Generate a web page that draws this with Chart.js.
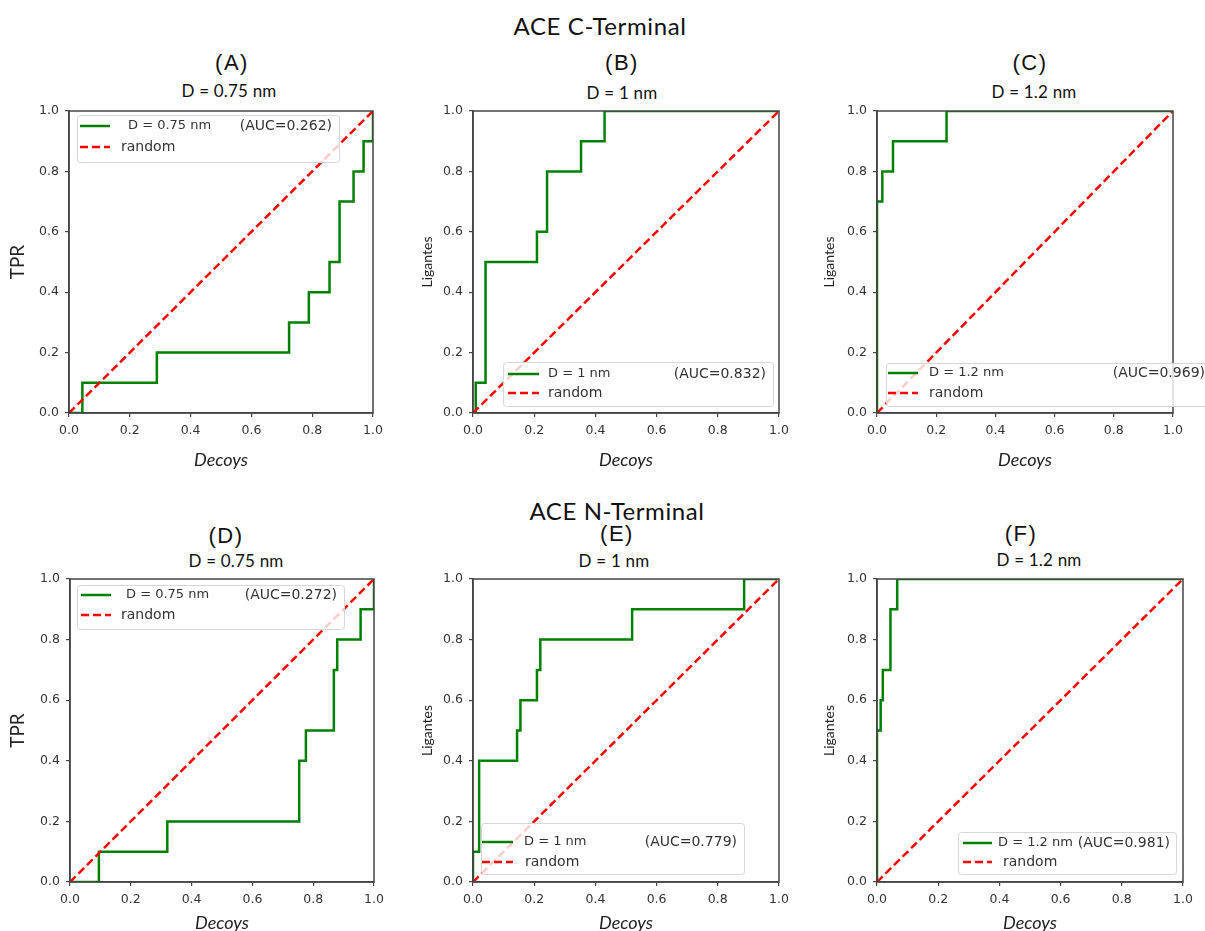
<!DOCTYPE html>
<html lang="en">
<head>
<meta charset="UTF-8">
<title>ACE ROC curves</title>
<script src="https://cdn.jsdelivr.net/npm/chart.js"></script>
<style>
  html, body { margin: 0; padding: 0; background: #fff; overflow: hidden; }
  body { width: 1205px; height: 931px; position: relative; }
  canvas { position: absolute; }
  .t { position: absolute; transform: translate(-50%, -50%); white-space: nowrap; line-height: 1; color: #111; }
  .sup { font-family: Lato, sans-serif; font-size: 24px; letter-spacing: 0.6px; }
  .lbl { font-family: "Liberation Sans", sans-serif; font-size: 22px; letter-spacing: 1.5px; }
  .sub { font-family: Lato, sans-serif; font-size: 17px; letter-spacing: 0.2px; }
</style>
</head>
<body>
<script>
  // ---- data ----
  const groupTitles = ['ACE C-Terminal', 'ACE N-Terminal'];
  const panelIds = ['A', 'B', 'C', 'D', 'E', 'F'];
  const distances = ['D = 0.75 nm', 'D = 1 nm', 'D = 1.2 nm', 'D = 0.75 nm', 'D = 1 nm', 'D = 1.2 nm'];
  const aucValues = ['0.262', '0.832', '0.969', '0.272', '0.779', '0.981'];
  const yTitles = ['TPR', 'Ligantes', 'Ligantes', 'TPR', 'Ligantes', 'Ligantes'];
  const xTitle = 'Decoys';
  const randomLabel = 'random';
  const tickValues = [0, 0.2, 0.4, 0.6, 0.8, 1.0];

  // ROC corner points (false positive rate, true positive rate)
  const fprA = [0, 0.044, 0.044, 0.289, 0.289, 0.724, 0.724, 0.789, 0.789, 0.857, 0.857, 0.890, 0.890, 0.936, 0.936, 0.969, 0.969, 1, 1];
  const tprA = [0, 0, 0.1, 0.1, 0.2, 0.2, 0.3, 0.3, 0.4, 0.4, 0.5, 0.5, 0.7, 0.7, 0.8, 0.8, 0.9, 0.9, 1];
  const fprB = [0, 0.009, 0.009, 0.041, 0.041, 0.209, 0.209, 0.242, 0.242, 0.353, 0.353, 0.430, 0.430, 1];
  const tprB = [0, 0, 0.1, 0.1, 0.5, 0.5, 0.6, 0.6, 0.8, 0.8, 0.9, 0.9, 1, 1];
  const fprC = [0, 0, 0.018, 0.018, 0.054, 0.054, 0.235, 0.235, 1];
  const tprC = [0, 0.7, 0.7, 0.8, 0.8, 0.9, 0.9, 1, 1];
  const fprD = [0, 0.095, 0.095, 0.320, 0.320, 0.754, 0.754, 0.776, 0.776, 0.868, 0.868, 0.879, 0.879, 0.956, 0.956, 1, 1];
  const tprD = [0, 0, 0.1, 0.1, 0.2, 0.2, 0.4, 0.4, 0.5, 0.5, 0.7, 0.7, 0.8, 0.8, 0.9, 0.9, 1];
  const fprE = [0, 0, 0.020, 0.020, 0.144, 0.144, 0.155, 0.155, 0.209, 0.209, 0.220, 0.220, 0.520, 0.520, 0.886, 0.886, 1];
  const tprE = [0, 0.1, 0.1, 0.4, 0.4, 0.5, 0.5, 0.6, 0.6, 0.7, 0.7, 0.8, 0.8, 0.9, 0.9, 1, 1];
  const fprF = [0, 0, 0.012, 0.012, 0.019, 0.019, 0.044, 0.044, 0.066, 0.066, 1];
  const tprF = [0, 0.5, 0.5, 0.6, 0.6, 0.7, 0.7, 0.9, 0.9, 1, 1];
  const randomX = [0, 1];
  const randomY = [0, 1];

  const rocColor = '#008000';
  const randomColor = '#ff0000';
  const axisColor = '#444';

  // ---- layout (page pixels) ----
  // canvas: [left, top, width, height], area: [left, top, right, bottom]
  const panels = [
    { fpr: fprA, tpr: tprA, canvas: [0, 96, 393, 377], area: [69, 111, 373, 413], yTitleX: 18, yTitleSize: 19, xTitleY: 460,
      label: [232, 63], sub: [229, 90],
      legend: { box: [77, 115, 339, 162], line: [80, 110], rows: [126, 147], labelX: 128, randomX: 121, aucRight: 332 } },
    { fpr: fprB, tpr: tprB, canvas: [400, 96, 400, 377], area: [473, 111, 779, 413], yTitleX: 427, yTitleSize: 14, xTitleY: 460,
      label: [622, 63], sub: [622, 92],
      legend: { box: [503, 362, 773, 406], line: [508, 539], rows: [374, 393], labelX: 548, randomX: 548, aucRight: 766 } },
    { fpr: fprC, tpr: tprC, canvas: [800, 96, 405, 377], area: [877, 111, 1173, 413], yTitleX: 829, yTitleSize: 14, xTitleY: 460,
      label: [1030, 63], sub: [1034, 91],
      legend: { box: [886, 363, 1212, 406], line: [888, 918], rows: [373, 393], labelX: 929, randomX: 929, aucRight: 1205 } },
    { fpr: fprD, tpr: tprD, canvas: [0, 564, 394, 373], area: [70, 579, 374, 882], yTitleX: 18, yTitleSize: 19, xTitleY: 923,
      label: [226, 536], sub: [236, 560],
      legend: { box: [77, 585, 344, 629], line: [81, 111], rows: [595, 615], labelX: 126, randomX: 121, aucRight: 337 } },
    { fpr: fprE, tpr: tprE, canvas: [400, 564, 400, 373], area: [473, 579, 779, 882], yTitleX: 427, yTitleSize: 14, xTitleY: 923,
      label: [617, 534], sub: [614, 560],
      legend: { box: [481, 823, 744, 874], line: [482, 513], rows: [842, 862], labelX: 524, randomX: 525, aucRight: 737 } },
    { fpr: fprF, tpr: tprF, canvas: [800, 564, 405, 373], area: [877, 579, 1183, 882], yTitleX: 829, yTitleSize: 14, xTitleY: 923,
      label: [1021, 534], sub: [1039, 559],
      legend: { box: [958, 832, 1176, 874], line: [963, 992], rows: [843, 862], labelX: 998, randomX: 1003, aucRight: 1170 } }
  ];
  const groupTitlePos = [[600, 26], [617, 511]];

  function addText(text, cls, pos) {
    const d = document.createElement('div');
    d.className = 't ' + cls;
    d.textContent = text;
    d.style.left = pos[0] + 'px';
    d.style.top = pos[1] + 'px';
    document.body.appendChild(d);
  }

  // box, spines and legend drawn over the plot
  const rocLegend = {
    id: 'rocLegend',
    afterDraw(chart, args, opts) {
      const ctx = chart.ctx, a = chart.chartArea;
      const ox = opts.ox, oy = opts.oy, g = opts.layout;
      ctx.save();
      ctx.strokeStyle = axisColor;
      ctx.lineWidth = 1.5;
      ctx.strokeRect(a.left, a.top, a.right - a.left, a.bottom - a.top);

      const [bx0, by0, bx1, by1] = g.box;
      ctx.fillStyle = 'rgba(255,255,255,0.8)';
      ctx.strokeStyle = '#d6d6d6';
      ctx.lineWidth = 1;
      ctx.beginPath();
      ctx.roundRect(bx0 - ox + 0.5, by0 - oy + 0.5, bx1 - bx0, by1 - by0, 3);
      ctx.fill();
      ctx.stroke();

      ctx.lineWidth = 2.5;
      ctx.strokeStyle = rocColor;
      ctx.beginPath();
      ctx.moveTo(g.line[0] - ox, g.rows[0] - oy);
      ctx.lineTo(g.line[1] - ox, g.rows[0] - oy);
      ctx.stroke();
      ctx.strokeStyle = randomColor;
      ctx.setLineDash([8, 4]);
      ctx.beginPath();
      ctx.moveTo(g.line[0] - ox, g.rows[1] - oy);
      ctx.lineTo(g.line[1] - ox, g.rows[1] - oy);
      ctx.stroke();
      ctx.setLineDash([]);

      ctx.fillStyle = '#333';
      ctx.textBaseline = 'middle';
      ctx.textAlign = 'left';
      ctx.font = '13px "DejaVu Sans"';
      ctx.fillText(opts.label, g.labelX - ox, g.rows[0] - oy);
      ctx.font = '14px "DejaVu Sans"';
      ctx.fillText(randomLabel, g.randomX - ox, g.rows[1] - oy);
      ctx.textAlign = 'right';
      ctx.fillText('(AUC=' + opts.auc + ')', g.aucRight - ox, g.rows[0] - oy);
      ctx.restore();
    }
  };

  groupTitles.forEach((t, i) => addText(t, 'sup', groupTitlePos[i]));

  panels.forEach((p, i) => {
    addText('(' + panelIds[i] + ')', 'lbl', p.label);
    addText(distances[i], 'sub', p.sub);

    const [cl, ct, cw, ch] = p.canvas;
    const [L, T, R, B] = p.area;
    const cv = document.createElement('canvas');
    cv.width = cw; cv.height = ch;
    cv.style.left = cl + 'px'; cv.style.top = ct + 'px';
    cv.style.width = cw + 'px'; cv.style.height = ch + 'px';
    document.body.appendChild(cv);

    const yAxisWidth = L - cl;
    const xAxisHeight = ct + ch - B;
    const xTitleSize = 18;
    const xTitlePad = (ct + ch - p.xTitleY) - xTitleSize * 1.2 / 2;
    const yTitlePad = (p.yTitleX - cl) - p.yTitleSize * 1.2 / 2;

    const tickFont = { family: 'DejaVu Sans', size: 12.5 };
    const gridOpts = { drawOnChartArea: false, drawTicks: true, tickLength: 4, color: axisColor, lineWidth: 1.2 };

    new Chart(cv, {
      type: 'line',
      data: {
        datasets: [
          {
            label: distances[i],
            data: p.fpr.map((x, k) => ({ x: x, y: p.tpr[k] })),
            borderColor: rocColor,
            borderWidth: 2.5,
            pointRadius: 0,
            tension: 0,
            order: 1
          },
          {
            label: randomLabel,
            data: randomX.map((x, k) => ({ x: x, y: randomY[k] })),
            borderColor: randomColor,
            borderWidth: 2.5,
            borderDash: [8, 4],
            pointRadius: 0,
            tension: 0,
            order: 0
          }
        ]
      },
      options: {
        responsive: false,
        animation: false,
        events: [],
        layout: { padding: { left: 0, top: T - ct, right: cl + cw - R, bottom: 0 } },
        plugins: {
          legend: { display: false },
          tooltip: { enabled: false },
          rocLegend: { ox: cl, oy: ct, layout: p.legend, label: distances[i], auc: aucValues[i] }
        },
        scales: {
          x: {
            type: 'linear', min: 0, max: 1,
            afterFit(s) { s.height = xAxisHeight; },
            afterBuildTicks(s) { s.ticks = tickValues.map(v => ({ value: v })); },
            ticks: { callback: v => v.toFixed(1), font: tickFont, color: '#333', padding: 6, maxRotation: 0, autoSkip: false },
            grid: gridOpts,
            border: { display: true, color: axisColor, width: 1.5 },
            title: { display: true, text: xTitle, color: '#222',
              font: { family: 'Lato', size: xTitleSize, style: 'italic' }, padding: { top: 0, bottom: xTitlePad } }
          },
          y: {
            type: 'linear', min: 0, max: 1,
            afterFit(s) { s.width = yAxisWidth; },
            afterBuildTicks(s) { s.ticks = tickValues.map(v => ({ value: v })); },
            ticks: { callback: v => v.toFixed(1), font: tickFont, color: '#333', padding: 6, autoSkip: false },
            grid: gridOpts,
            border: { display: true, color: axisColor, width: 1.5 },
            title: { display: true, text: yTitles[i], color: '#222',
              font: { family: 'Lato', size: p.yTitleSize }, padding: { top: yTitlePad, bottom: 0 } }
          }
        }
      },
      plugins: [rocLegend]
    });
  });
</script>
</body>
</html>
